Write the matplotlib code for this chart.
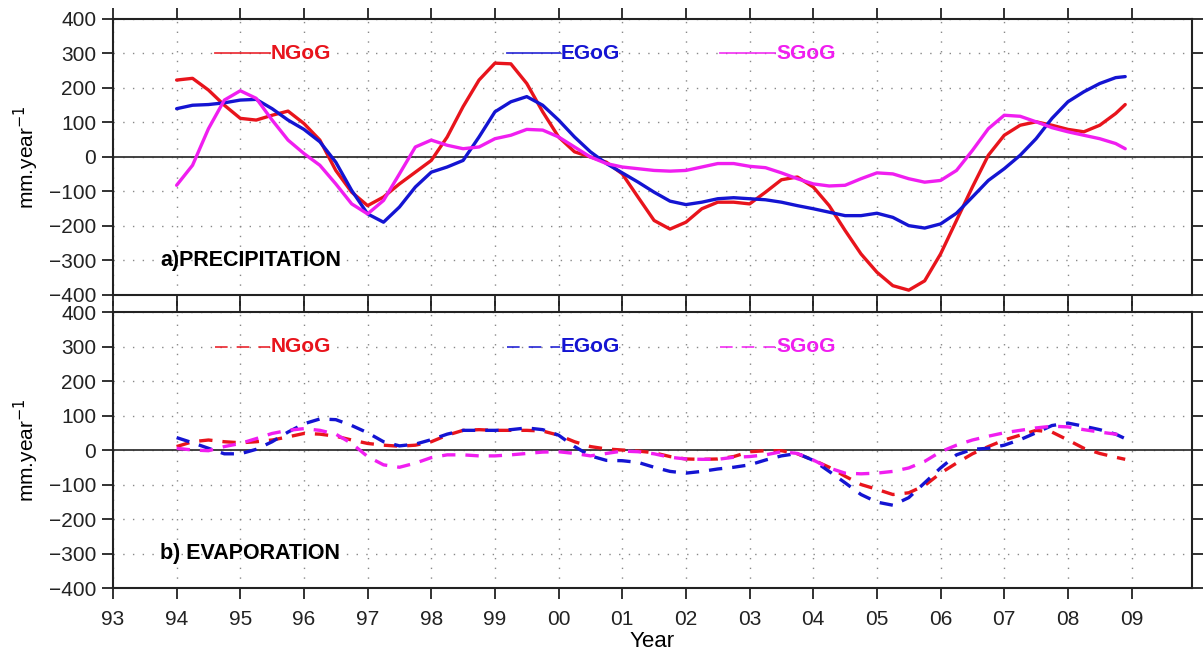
import numpy as np
import matplotlib
matplotlib.use("Agg")
import matplotlib.pyplot as plt
from matplotlib.lines import Line2D

# quarter-year sample times (last point is the end of the record)
years = np.append(np.arange(1994.0, 2008.8, 0.25), 2008.9)

# a) precipitation anomalies (mm/year)
prec_ngog = [223, 228, 194, 150, 112, 107, 121, 133,
             97, 49, -39, -102, -141, -116, -78, -44,
             -10, 58, 146, 223, 272, 270, 213, 131,
             58, 15, 0, -15, -49, -117, -184, -209,
             -189, -150, -131, -131, -136, -102, -66, -58,
             -87, -141, -213, -281, -334, -373, -386, -359,
             -281, -184, -87, 5, 63, 92, 102, 92,
             80, 73, 92, 126, 152]
prec_egog = [140, 150, 152, 157, 165, 167, 140, 107,
             80, 44, -15, -97, -165, -189, -145, -87,
             -44, -29, -10, 58, 131, 160, 175, 150,
             107, 58, 15, -19, -46, -73, -102, -128,
             -138, -131, -121, -118, -121, -124, -131, -141,
             -150, -160, -170, -170, -163, -175, -199, -206,
             -194, -163, -116, -68, -34, 5, 53, 112,
             160, 189, 213, 230, 233]
prec_sgog = [-82, -24, 82, 165, 192, 170, 107, 49,
             10, -24, -78, -136, -165, -126, -49, 29,
             49, 34, 24, 29, 53, 63, 80, 78,
             58, 29, 0, -19, -29, -34, -39, -41,
             -39, -29, -19, -19, -27, -31, -46, -63,
             -78, -84, -82, -63, -46, -49, -63, -73,
             -68, -39, 19, 82, 121, 118, 102, 85,
             73, 63, 53, 39, 24]

# b) evaporation anomalies (mm/year)
evap_ngog = [10, 24, 29, 24, 21, 24, 29, 38,
             48, 46, 40, 29, 19, 14, 11, 14,
             24, 43, 57, 59, 57, 57, 57, 55,
             43, 24, 10, 3, 0, -3, -8, -19,
             -26, -27, -26, -19, -5, -2, -2, -11,
             -29, -50, -76, -100, -114, -129, -124, -103,
             -67, -38, -11, 10, 29, 43, 57, 52,
             29, 5, -10, -21, -27]
evap_egog = [36, 21, 5, -11, -11, 2, 24, 52,
             76, 90, 88, 71, 50, 24, 12, 17,
             30, 46, 57, 57, 57, 59, 64, 59,
             43, 10, -17, -30, -31, -36, -50, -62,
             -67, -62, -55, -50, -43, -29, -17, -10,
             -30, -62, -95, -129, -151, -160, -138, -95,
             -52, -14, 2, 5, 14, 30, 50, 71,
             78, 69, 59, 46, 33]
evap_sgog = [5, 0, -2, 10, 19, 33, 48, 57,
             62, 57, 46, 19, -19, -43, -50, -38,
             -22, -14, -14, -17, -17, -14, -10, -6,
             -5, -10, -17, -10, -3, -5, -11, -21,
             -26, -27, -27, -21, -19, -14, -5, -10,
             -29, -52, -67, -69, -67, -62, -52, -33,
             -5, 14, 29, 40, 50, 57, 64, 69,
             67, 59, 52, 46, 40]

names = ["NGoG", "EGoG", "SGoG"]
colors = ["#e8141c", "#1414d2", "#f01ef0"]
legend_x = [(0.0945, 0.1455), (0.365, 0.414), (0.5626, 0.6135)]
xticks = np.arange(1993, 2010)
xlabels = ["%02d" % (y % 100) for y in xticks]
yticks = np.arange(-400, 401, 100)

plt.rcParams['font.family'] = ['Liberation Sans', 'DejaVu Sans']

fig = plt.figure(figsize=(12.03, 6.57), dpi=100)
ax1 = fig.add_axes([0.0939, 0.551, 0.897, 0.4201])
ax2 = fig.add_axes([0.0939, 0.105, 0.897, 0.4201])


def style_axis(ax, show_xlabels):
    ax.set_xlim(1993, 2009.95)
    ax.set_ylim(-400, 400)
    ax.set_xticks(xticks)
    ax.set_yticks(yticks)
    ax.set_yticklabels([str(v).replace("-", "\u2212") for v in yticks])
    if show_xlabels:
        ax.set_xticklabels(xlabels)
    else:
        ax.set_xticklabels([])
    ax.tick_params(direction="out", length=8, width=1.3, top=True, right=True,
                   labelsize=15, colors="#222222")
    ax.tick_params(axis="x", pad=8)
    ax.tick_params(axis="y", pad=4)
    for s in ax.spines.values():
        s.set_linewidth(1.5)
        s.set_color("#222222")
    ax.grid(True, color="#888888", linestyle=(0, (1, 6)), linewidth=1.0)
    ax.axhline(0, color="#333333", linewidth=1.3, zorder=2)
    ax.set_ylabel("mm.year$^{-1}$", fontsize=15, labelpad=6)


style_axis(ax1, False)
style_axis(ax2, True)
ax2.set_xlabel("Year", fontsize=16, labelpad=1)

for vals, c in zip([prec_ngog, prec_egog, prec_sgog], colors):
    ax1.plot(years, vals, color=c, linewidth=2.4, solid_capstyle="round",
             solid_joinstyle="round", zorder=3)
for vals, c in zip([evap_ngog, evap_egog, evap_sgog], colors):
    ax2.plot(years, vals, color=c, linewidth=2.4, dashes=(4, 3), zorder=3)

# legends drawn as short sample lines + bold coloured names
for ax, ls in [(ax1, "-"), (ax2, (0, (7, 5)))]:
    for name, c, (x0, x1) in zip(names, colors, legend_x):
        ax.add_line(Line2D([x0, x1], [0.875, 0.875], transform=ax.transAxes,
                           color=c, linewidth=1.3, linestyle=ls, alpha=0.85))
        ax.text(x1 + 0.001, 0.875, name, transform=ax.transAxes, color=c,
                fontsize=15, fontweight="bold", va="center", ha="left")

ax1.text(0.0436, 0.125, "a)PRECIPITATION", transform=ax1.transAxes,
         fontsize=15.5, fontweight="bold", va="center", ha="left")
ax2.text(0.0436, 0.125, "b) EVAPORATION", transform=ax2.transAxes,
         fontsize=15.5, fontweight="bold", va="center", ha="left")

fig.savefig("out.png", dpi=100)
